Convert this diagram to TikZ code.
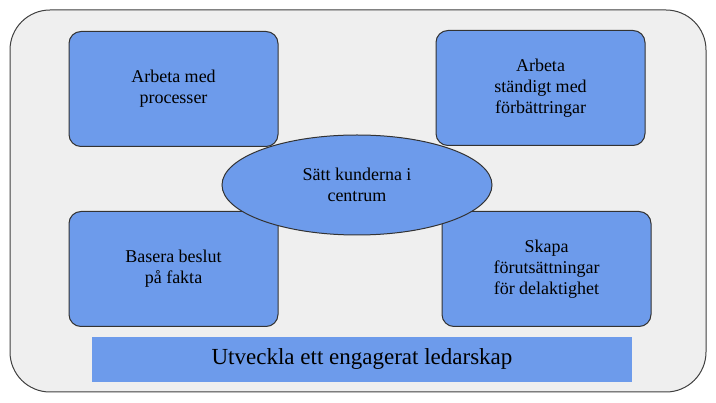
\documentclass[tikz,border=0pt]{standalone}
\usepackage{fontspec}
\setmainfont{Liberation Serif}
\newfontfamily\tms{Liberation Serif}
\usetikzlibrary{shapes.geometric}
\definecolor{bl}{HTML}{6D9BEB}
\definecolor{bg}{HTML}{EFEFEF}
\tikzset{
 box/.style={draw=black!80,fill=bl,rounded corners=12pt,line width=1pt,minimum width=209pt,minimum height=115pt,align=center,font=\tms\fontsize{18}{21}\selectfont},
}
\begin{document}
\begin{tikzpicture}[x=1pt,y=-1pt]
\useasboundingbox (0,0) rectangle (716,403);
\draw[draw=black!75,fill=bg,line width=1pt,rounded corners=40pt] (10,10) rectangle (706,392);
\node[box] (a) at (173.5,89) {Arbeta med\\processer};
\node[box] (b) at (540.5,88) {Arbeta\\ständigt med\\förbättringar};
\node[box] (c) at (173.5,269) {Basera beslut\\på fakta};
\node[box] (d) at (546.5,269) {Skapa\\förutsättningar\\för delaktighet};
\node[ellipse,draw=black!80,fill=bl,line width=1pt,minimum width=270pt,minimum height=100pt,align=center,font=\tms\fontsize{18}{21}\selectfont] (e) at (357,185) {Sätt kunderna i\\centrum};
\node[fill=bl,minimum width=540pt,minimum height=45pt,font=\tms\fontsize{23}{27}\selectfont] (f) at (362,359.5) {Utveckla ett engagerat ledarskap};
\end{tikzpicture}
\end{document}
